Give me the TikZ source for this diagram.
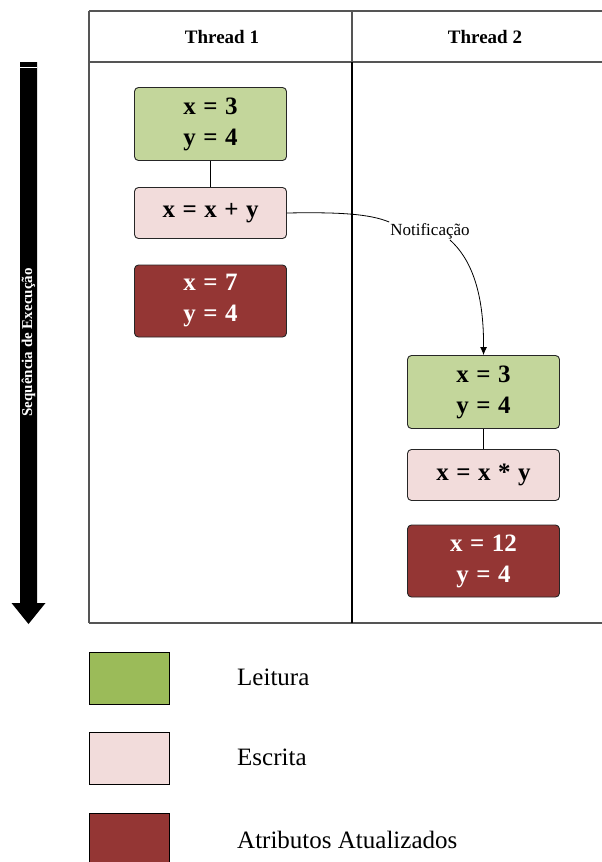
\documentclass[tikz,border=0pt]{standalone}
\usepackage{fontspec}
\setmainfont{Liberation Serif}
\usetikzlibrary{arrows.meta}

\definecolor{readfill}{HTML}{C3D69B}
\definecolor{writefill}{HTML}{F2DCDB}
\definecolor{updfill}{HTML}{943634}
\definecolor{legread}{HTML}{9BBB59}
\definecolor{framegray}{HTML}{555555}

\newcommand{\opfont}{\bfseries\fontsize{25}{31}\selectfont\spaceskip=0.3em plus 0.1em\relax}

\tikzset{
  opbox/.style={draw=black!85, line width=0.9pt, rounded corners=4pt,
    minimum width=152pt, align=center, inner sep=0pt, font=\opfont},
  readbox/.style={opbox, fill=readfill, minimum height=73pt},
  writebox/.style={opbox, fill=writefill, minimum height=51pt},
  updbox/.style={opbox, fill=updfill, text=white, minimum height=72pt},
  link/.style={draw=black, line width=0.8pt},
  frameline/.style={draw=framegray, line width=1.3pt},
  legsq/.style={draw=black, line width=1pt, minimum width=80pt, minimum height=52pt, inner sep=0pt},
  legtext/.style={anchor=west, inner sep=0pt, font=\fontsize{25}{30}\selectfont},
  header/.style={font=\bfseries\fontsize{19}{22}\selectfont}
}

\begin{document}
\begin{tikzpicture}[x=1pt, y=-1pt]
  \clip (0,0) rectangle (602,862);
  \fill[white] (0,0) rectangle (602,862);

  % swimlane frame
  \draw[frameline] (89,11) -- (602,11);
  \draw[frameline] (89,62) -- (602,62);
  \draw[frameline] (89,11) -- (89,623);
  \draw[frameline] (89,623) -- (602,623);
  \draw[frameline] (352,11) -- (352,62);
  \draw[draw=black, line width=1.8pt] (352,62) -- (352,623);

  \node[header] (h1) at (222,37) {Thread 1};
  \node[header] (h2) at (485,37) {Thread 2};

  % execution order arrow
  \fill[black] (20,62) -- (37,62) -- (37,603) -- (45.5,603) -- (28.5,624)
    -- (11.5,603) -- (20,603) -- cycle;
  \draw[white, line width=1pt] (20,67) -- (37,67);
  \node[rotate=90, text=white, font=\bfseries\fontsize{15}{18}\selectfont]
    (seq) at (28.5,342.5) {Sequência de Execução};

  % thread 1
  \node[readbox] (r1) at (210.5,124) {x = 3\\y = 4};
  \node[writebox] (w1) at (210.5,213) {x = x + y};
  \node[updbox] (u1) at (210.5,301) {x = 7\\y = 4};
  \draw[link] (r1) -- (w1);

  % thread 2
  \node[readbox] (r2) at (483.5,392) {x = 3\\y = 4};
  \node[writebox] (w2) at (483.5,475) {x = x * y};
  \node[updbox] (u2) at (483.5,561) {x = 12\\y = 4};
  \draw[link] (r2) -- (w2);

  % notification between threads
  \node[inner sep=1pt, font=\fontsize{17}{20}\selectfont] (notif) at (430,231) {Notificação};
  \draw[link] (w1.east) .. controls (340,212) and (370,214) .. (notif.north west);
  \draw[link, -{Latex[length=8pt,width=7pt]}] ([xshift=20pt]notif.south)
    .. controls (470,258) and (484,290) .. (r2.north);

  % legend
  \node[legsq, fill=legread] (k1) at (129,678) {};
  \node[legsq, fill=writefill] (k2) at (129,758.5) {};
  \node[legsq, fill=updfill] (k3) at (129,839) {};
  \node[legtext] (t1) at (237,677.5) {Leitura};
  \node[legtext] (t2) at (237,757.5) {Escrita};
  \node[legtext] (t3) at (237,839.5) {Atributos Atualizados};
\end{tikzpicture}
\end{document}
